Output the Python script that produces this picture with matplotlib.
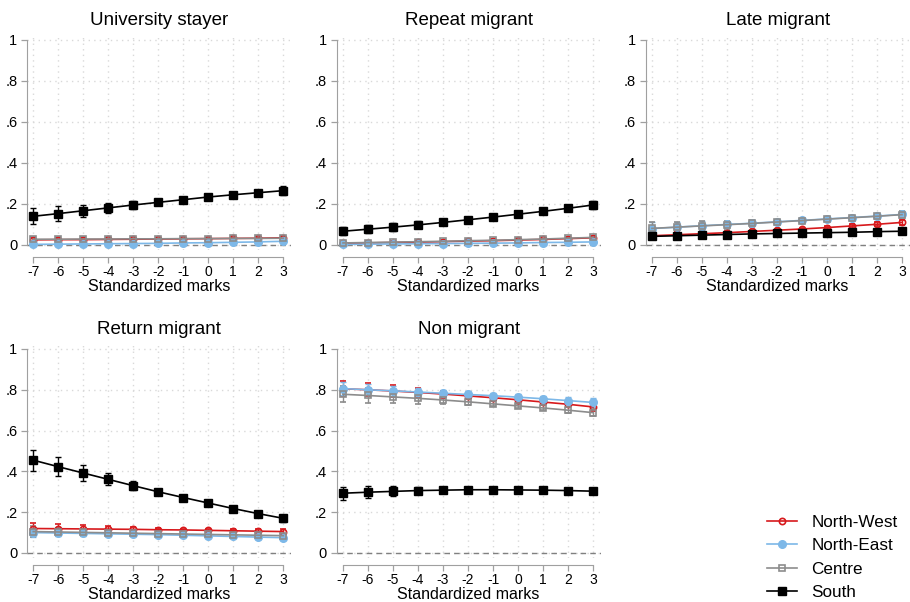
import matplotlib
matplotlib.use("Agg")
import matplotlib.pyplot as plt
import numpy as np

plt.rcParams['font.family'] = ['Liberation Sans', 'DejaVu Sans']

marks = [-7, -6, -5, -4, -3, -2, -1, 0, 1, 2, 3]
regions = ["North-West", "North-East", "Centre", "South"]
panel_titles = ["University stayer", "Repeat migrant", "Late migrant", "Return migrant", "Non migrant"]
ytick_vals = [0, 0.2, 0.4, 0.6, 0.8, 1.0]
ytick_labels = ["0", ".2", ".4", ".6", ".8", "1"]

# University stayer
us_nw = [0.025, 0.026, 0.026, 0.027, 0.028, 0.029, 0.030, 0.031, 0.032, 0.033, 0.035]
us_ne = [0.003, 0.004, 0.005, 0.006, 0.007, 0.008, 0.010, 0.011, 0.013, 0.015, 0.018]
us_ce = [0.028, 0.028, 0.029, 0.029, 0.030, 0.030, 0.031, 0.031, 0.032, 0.032, 0.033]
us_so = [0.140, 0.153, 0.167, 0.181, 0.195, 0.208, 0.221, 0.234, 0.245, 0.255, 0.265]
us_nw_ci = [0.010, 0.009, 0.008, 0.007, 0.006, 0.005, 0.005, 0.005, 0.005, 0.006, 0.007]
us_ne_ci = [0.004, 0.004, 0.004, 0.004, 0.004, 0.004, 0.004, 0.004, 0.004, 0.005, 0.006]
us_ce_ci = [0.010, 0.009, 0.008, 0.007, 0.006, 0.005, 0.005, 0.005, 0.005, 0.006, 0.007]
us_so_ci = [0.038, 0.035, 0.030, 0.026, 0.021, 0.015, 0.010, 0.008, 0.009, 0.015, 0.023]

# Repeat migrant
rp_nw = [0.008, 0.010, 0.012, 0.014, 0.016, 0.019, 0.021, 0.024, 0.027, 0.031, 0.035]
rp_ne = [0.003, 0.004, 0.005, 0.006, 0.007, 0.008, 0.009, 0.010, 0.012, 0.013, 0.015]
rp_ce = [0.010, 0.012, 0.014, 0.016, 0.018, 0.021, 0.023, 0.026, 0.029, 0.033, 0.037]
rp_so = [0.067, 0.077, 0.087, 0.098, 0.110, 0.123, 0.136, 0.150, 0.164, 0.179, 0.195]
rp_nw_ci = [0.005, 0.005, 0.005, 0.005, 0.004, 0.004, 0.004, 0.004, 0.004, 0.005, 0.006]
rp_ne_ci = [0.003, 0.003, 0.003, 0.003, 0.003, 0.003, 0.003, 0.003, 0.003, 0.004, 0.005]
rp_ce_ci = [0.006, 0.006, 0.005, 0.005, 0.005, 0.004, 0.004, 0.004, 0.005, 0.006, 0.007]
rp_so_ci = [0.020, 0.020, 0.019, 0.017, 0.014, 0.011, 0.008, 0.007, 0.009, 0.013, 0.020]

# Late migrant
lm_nw = [0.045, 0.050, 0.055, 0.060, 0.066, 0.072, 0.078, 0.085, 0.093, 0.101, 0.110]
lm_ne = [0.080, 0.087, 0.094, 0.100, 0.106, 0.113, 0.120, 0.127, 0.134, 0.141, 0.149]
lm_ce = [0.081, 0.087, 0.093, 0.099, 0.105, 0.112, 0.119, 0.126, 0.133, 0.140, 0.148]
lm_so = [0.042, 0.045, 0.048, 0.051, 0.054, 0.056, 0.058, 0.060, 0.062, 0.065, 0.067]
lm_nw_ci = [0.012, 0.011, 0.010, 0.009, 0.008, 0.007, 0.006, 0.006, 0.007, 0.009, 0.012]
lm_ne_ci = [0.030, 0.027, 0.023, 0.019, 0.015, 0.011, 0.008, 0.006, 0.008, 0.012, 0.018]
lm_ce_ci = [0.030, 0.027, 0.023, 0.019, 0.015, 0.011, 0.008, 0.006, 0.008, 0.012, 0.018]
lm_so_ci = [0.008, 0.007, 0.006, 0.005, 0.005, 0.004, 0.004, 0.004, 0.004, 0.005, 0.006]

# Return migrant
rm_nw = [0.120, 0.119, 0.118, 0.117, 0.116, 0.114, 0.113, 0.111, 0.109, 0.107, 0.105]
rm_ne = [0.100, 0.098, 0.096, 0.094, 0.092, 0.090, 0.087, 0.084, 0.081, 0.078, 0.075]
rm_ce = [0.105, 0.103, 0.101, 0.099, 0.097, 0.095, 0.093, 0.091, 0.089, 0.087, 0.085]
rm_so = [0.455, 0.423, 0.392, 0.361, 0.330, 0.300, 0.272, 0.245, 0.218, 0.193, 0.170]
rm_nw_ci = [0.025, 0.021, 0.017, 0.013, 0.010, 0.007, 0.006, 0.006, 0.007, 0.009, 0.012]
rm_ne_ci = [0.020, 0.017, 0.014, 0.011, 0.009, 0.007, 0.006, 0.006, 0.006, 0.007, 0.009]
rm_ce_ci = [0.025, 0.021, 0.017, 0.013, 0.010, 0.007, 0.006, 0.006, 0.006, 0.008, 0.010]
rm_so_ci = [0.052, 0.046, 0.038, 0.030, 0.022, 0.015, 0.010, 0.008, 0.010, 0.013, 0.017]

# Non migrant
nm_nw = [0.805, 0.800, 0.794, 0.787, 0.779, 0.770, 0.761, 0.751, 0.740, 0.729, 0.716]
nm_ne = [0.806, 0.800, 0.795, 0.789, 0.783, 0.777, 0.771, 0.764, 0.756, 0.747, 0.738]
nm_ce = [0.778, 0.772, 0.765, 0.758, 0.750, 0.741, 0.731, 0.721, 0.711, 0.700, 0.688]
nm_so = [0.293, 0.298, 0.302, 0.306, 0.308, 0.310, 0.310, 0.309, 0.308, 0.306, 0.303]
nm_nw_ci = [0.037, 0.032, 0.027, 0.022, 0.017, 0.013, 0.010, 0.010, 0.012, 0.015, 0.019]
nm_ne_ci = [0.030, 0.027, 0.024, 0.021, 0.018, 0.015, 0.013, 0.013, 0.015, 0.019, 0.024]
nm_ce_ci = [0.040, 0.036, 0.031, 0.026, 0.021, 0.016, 0.012, 0.011, 0.012, 0.015, 0.018]
nm_so_ci = [0.032, 0.028, 0.024, 0.018, 0.013, 0.009, 0.007, 0.007, 0.008, 0.010, 0.013]

panels = [
    [(us_nw, us_nw_ci), (us_ne, us_ne_ci), (us_ce, us_ce_ci), (us_so, us_so_ci)],
    [(rp_nw, rp_nw_ci), (rp_ne, rp_ne_ci), (rp_ce, rp_ce_ci), (rp_so, rp_so_ci)],
    [(lm_nw, lm_nw_ci), (lm_ne, lm_ne_ci), (lm_ce, lm_ce_ci), (lm_so, lm_so_ci)],
    [(rm_nw, rm_nw_ci), (rm_ne, rm_ne_ci), (rm_ce, rm_ce_ci), (rm_so, rm_so_ci)],
    [(nm_nw, nm_nw_ci), (nm_ne, nm_ne_ci), (nm_ce, nm_ce_ci), (nm_so, nm_so_ci)],
]

styles = [
    dict(color="#D7191C", marker="o", mfc="none", mec="#D7191C", ms=4.5, mew=1.2),
    dict(color="#7DB8E8", marker="o", mfc="#7DB8E8", mec="#7DB8E8", ms=5.5, mew=1.0),
    dict(color="#8C8C8C", marker="s", mfc="none", mec="#8C8C8C", ms=5, mew=1.2),
    dict(color="#000000", marker="s", mfc="#000000", mec="#000000", ms=5.5, mew=1.0),
]

fig = plt.figure(figsize=(9.10, 6.02), dpi=100)
W, H = 910.0, 602.0
xmin, xmax = -7.25, 3.3
ymin, ymax = -0.025, 1.02
lefts = [27, 336.75, 645.75]
px_w = (xmax - xmin) * 25
rows = [(35.9, 250.1), (344.9, 558.1)]
pos = [(lefts[0], rows[0]), (lefts[1], rows[0]), (lefts[2], rows[0]),
       (lefts[0], rows[1]), (lefts[1], rows[1])]

for i, (title, series) in enumerate(zip(panel_titles, panels)):
    lx, (ty, by) = pos[i]
    ax = fig.add_axes([lx / W, 1 - by / H, px_w / W, (by - ty) / H])
    ax.set_xlim(xmin, xmax)
    ax.set_ylim(ymin, ymax)
    ax.set_xticks(marks)
    ax.set_xticklabels([str(m) for m in marks], fontsize=10.5)
    ax.set_yticks(ytick_vals)
    ax.set_yticklabels(ytick_labels, fontsize=10.5)
    ax.grid(True, color="#D9D9D9", linestyle=(0, (1, 3)), linewidth=1.0)
    ax.set_axisbelow(True)
    for s in ["top", "right"]:
        ax.spines[s].set_visible(False)
    ax.spines["left"].set_color("#A0A0A0")
    ax.spines["bottom"].set_color("#A0A0A0")
    ax.spines["bottom"].set_position(("outward", 5))
    ax.spines["bottom"].set_bounds(-7, 3)
    ax.spines["left"].set_bounds(0, 1)
    ax.tick_params(axis="both", colors="#A0A0A0", labelcolor="#000000", length=4, width=0.9)
    ax.tick_params(axis="x", pad=2)
    ax.tick_params(axis="y", pad=3)
    ax.axhline(0, color="#808080", linestyle=(0, (4, 3)), linewidth=1.0, zorder=1)
    ax.set_title(title, fontsize=13.5, pad=7.5)
    ax.set_xlabel("Standardized marks", fontsize=11.5, labelpad=0)
    for (vals, ci), st in zip(series, styles):
        ax.errorbar(marks, vals, yerr=ci, color=st["color"], marker=st["marker"],
                    mfc=st["mfc"], mec=st["mec"], ms=st["ms"], mew=st["mew"],
                    lw=1.2, elinewidth=1.0, capsize=2.5, capthick=1.0, zorder=3)

fig.legend([plt.Line2D([], [], color=st["color"], marker=st["marker"], mfc=st["mfc"],
                       mec=st["mec"], ms=st["ms"], mew=st["mew"], lw=1.2) for st in styles],
           regions, loc="upper left", bbox_to_anchor=(753 / W, 1 - 501 / H),
           frameon=False, fontsize=12.3, handlelength=1.8, labelspacing=0.5,
           handletextpad=0.82, borderpad=0.3)

fig.savefig("out.png", dpi=100)
